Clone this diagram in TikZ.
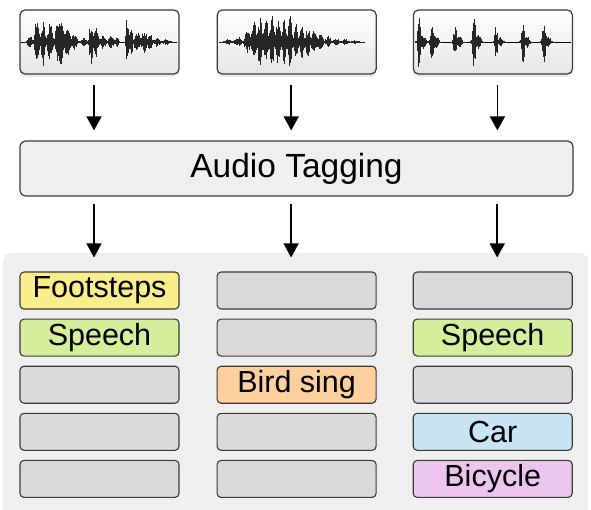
\documentclass[tikz,border=0pt]{standalone}
\usepackage{fontspec}
\setmainfont{Liberation Sans}
\usepackage{tikz}
\usetikzlibrary{positioning,shadows,arrows.meta}
\definecolor{tagyellow}{HTML}{F8EE8C}
\definecolor{taggreen}{HTML}{D5EE9B}
\definecolor{tagorange}{HTML}{FDD09E}
\definecolor{tagblue}{HTML}{C7E3F4}
\definecolor{tagpurple}{HTML}{ECC5EE}
\definecolor{tagempty}{HTML}{D9D9D9}
\definecolor{panelgray}{HTML}{EFEFEF}
\definecolor{edgegray}{HTML}{3A3A3A}

% one burst of a waveform: centre, width, amplitude, baseline
\newcommand{\wavebump}[4]{%
  \pgfmathsetmacro{\xa}{#1-2.2*#2}
  \pgfmathsetmacro{\xb}{\xa+0.6}
  \pgfmathsetmacro{\xe}{#1+2.2*#2}
  \foreach \xx in {\xa,\xb,...,\xe} {
    \pgfmathsetmacro{\env}{#3*exp(-((\xx-#1)/#2)^2)}
    \pgfmathsetmacro{\up}{\env*(0.45+0.55*rnd)}
    \pgfmathsetmacro{\dn}{\env*(0.45+0.55*rnd)}
    \draw[wavepen] (\xx,#4-\up) -- (\xx,#4+\dn);
  }}

\begin{document}
\begin{tikzpicture}[x=1pt, y=-1pt, >=Stealth, font=\color{black!90}]
  \tikzset{
    wavebox/.style={rectangle, rounded corners=5pt, draw=edgegray, line width=1.2pt,
      top color=white, bottom color=black!10, minimum width=159pt, minimum height=64pt,
      drop shadow={shadow xshift=0pt, shadow yshift=-3pt, opacity=0.08, fill=black}},
    tagbox/.style={rectangle, rounded corners=6pt, draw=edgegray, line width=1.2pt,
      fill=panelgray, minimum width=553pt, minimum height=55pt, font=\fontsize{33.5}{37}\selectfont},
    lab/.style={rectangle, rounded corners=4pt, draw=edgegray, line width=1.1pt,
      fill=tagempty, minimum width=159pt, minimum height=37pt, inner sep=0pt,
      font=\fontsize{30.5}{34}\selectfont},
    wavepen/.style={line width=0.6pt, black!85},
    flow/.style={->, line width=1.6pt, >={Triangle[width=15pt,length=14pt]}}
  }
  \useasboundingbox (0,0) rectangle (591,510);
  \pgfmathsetseed{11}

  % panel behind the tag lists
  \fill[panelgray, rounded corners=8pt] (3,253) rectangle (588,530);

  % audio clips
  \node[wavebox] (w1) at (99.5,42) {};
  \node[wavebox, right=37pt of w1] (w2) {};
  \node[wavebox, right=36pt of w2] (w3) {};

  % waveforms
  \draw[line width=0.6pt] (21,42) -- (177,42);
  \foreach \c/\w/\a in {30/3/6, 37/2.5/26, 43/2/27, 50/3/20, 57/2/22, 61/2.5/26, 67/3/18,
      74/3/9, 84/3/5, 91/2/22, 96/2.5/16, 103/3/7, 111/3/7, 117/1.5/6, 127/1.2/29,
      131/2/13, 137/3/11, 144/3/12, 150/2.5/9, 157/3/5, 166/4/3}
    {\wavebump{\c}{\w}{\a}{42}}
  \draw[line width=0.6pt] (222,42) -- (365,42);
  \foreach \c/\w/\a in {228/4/3, 238/4/5, 247/3/12, 254/3/21, 260/2.5/26, 266/2.5/25,
      272/2.5/27, 278/2.5/25, 284/2.5/23, 290/2.5/26, 296/2.5/19, 302/2.5/17, 308/2.5/15,
      314/3/12, 320/3/9, 328/3/6, 336/3/4, 345/4/3, 355/4/2}
    {\wavebump{\c}{\w}{\a}{42}}
  \draw[line width=0.6pt] (415,42) -- (571,42);
  \foreach \c/\w/\a in {419/1.8/28, 423/3/7, 432/2/20, 436/3/6, 455/2/16, 459/3/6,
      474/1.8/30, 478/3/8, 496/1.8/16, 500/3/5, 523/1.8/21, 527/3/6, 544/2/21, 548/3/6}
    {\wavebump{\c}{\w}{\a}{42}}

  % tagger
  \node[tagbox] (tag) at (296.5,168.5) {Audio Tagging};

  % tag lists
  \node[lab, fill=tagyellow] (a1) at (99.5,290.5) {Footsteps};
  \node[lab, fill=taggreen, below=9pt of a1] (a2) {Speech};
  \node[lab, below=9pt of a2] (a3) {};
  \node[lab, below=9pt of a3] (a4) {};
  \node[lab, below=9pt of a4] (a5) {};

  \node[lab, right=37pt of a1] (b1) {};
  \node[lab, below=9pt of b1] (b2) {};
  \node[lab, fill=tagorange, below=9pt of b2] (b3) {Bird sing};
  \node[lab, below=9pt of b3] (b4) {};
  \node[lab, below=9pt of b4] (b5) {};

  \node[lab, right=36pt of b1] (c1) {};
  \node[lab, fill=taggreen, below=9pt of c1] (c2) {Speech};
  \node[lab, below=9pt of c2] (c3) {};
  \node[lab, fill=tagblue, below=9pt of c3] (c4) {Car};
  \node[lab, fill=tagpurple, below=9pt of c4] (c5) {Bicycle};

  % arrows
  \draw[flow, shorten <=10pt, shorten >=10pt] ([xshift=-5.5pt]w1.south) -- ([xshift=-5.5pt]w1.south |- tag.north);
  \draw[flow, shorten <=10pt, shorten >=10pt] ([xshift=-5.5pt]w2.south) -- ([xshift=-5.5pt]w2.south |- tag.north);
  \draw[flow, shorten <=10pt, shorten >=10pt] ([xshift=4.5pt]w3.south) -- ([xshift=4.5pt]w3.south |- tag.north);
  \draw[flow, shorten <=7pt, shorten >=14pt] ([xshift=-5.5pt]a1.north |- tag.south) -- ([xshift=-5.5pt]a1.north);
  \draw[flow, shorten <=7pt, shorten >=14pt] ([xshift=-5.5pt]b1.north |- tag.south) -- ([xshift=-5.5pt]b1.north);
  \draw[flow, shorten <=7pt, shorten >=14pt] ([xshift=4.5pt]c1.north |- tag.south) -- ([xshift=4.5pt]c1.north);
\end{tikzpicture}
\end{document}
